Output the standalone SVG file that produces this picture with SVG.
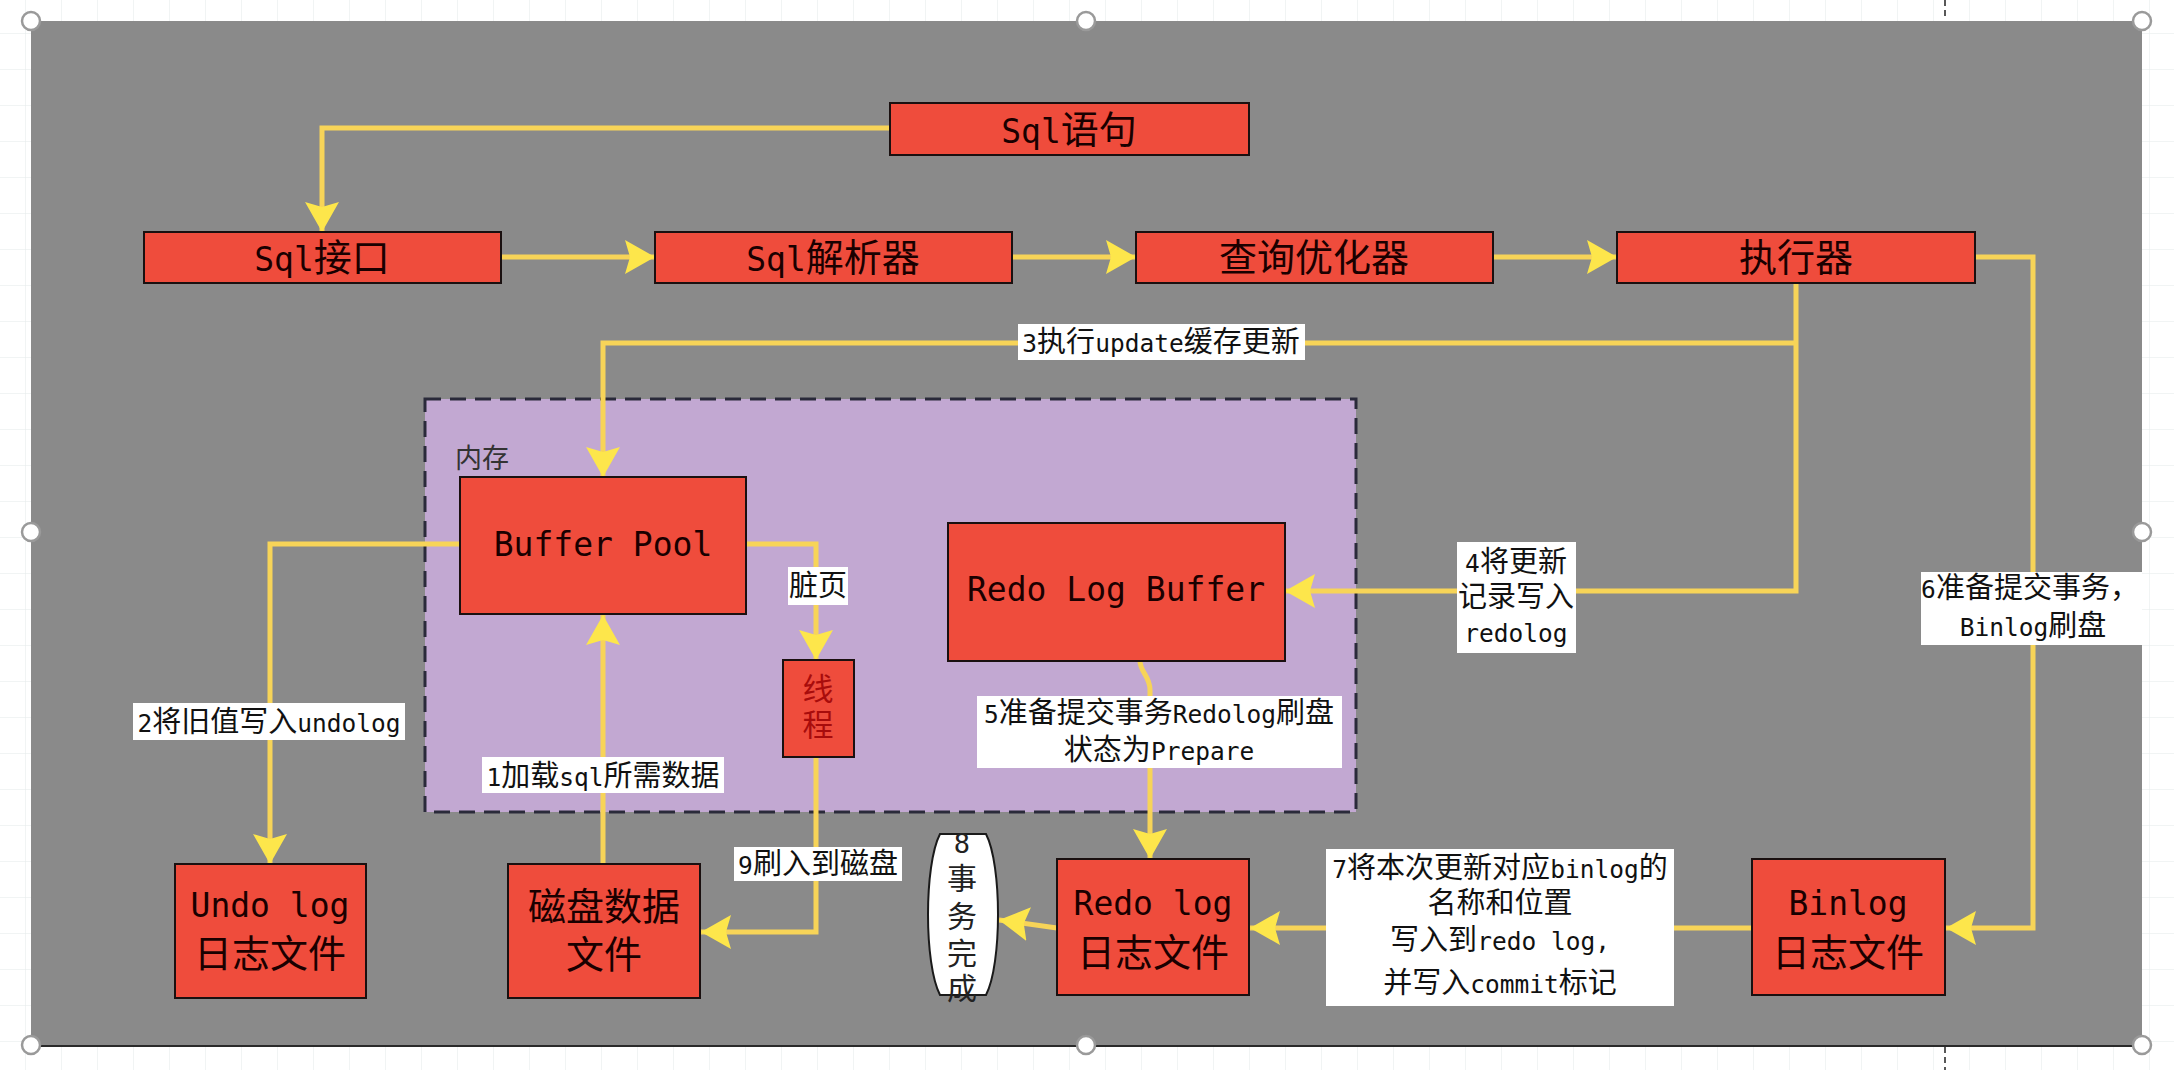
<svg xmlns="http://www.w3.org/2000/svg" width="2174" height="1070" viewBox="0 0 2174 1070">
<style>
.nb{fill:#ef4c3c;stroke:#1a1010;stroke-width:2}
.nt{font-family:"Liberation Sans","Noto Sans CJK SC",sans-serif;font-size:38px;fill:#1a0000;text-anchor:middle}
.nl{font-family:"DejaVu Sans Mono",monospace;font-size:33px}
.lb{fill:#ffffff}
.lt{font-family:"Liberation Sans","Noto Sans CJK SC",sans-serif;font-size:29px;fill:#111;text-anchor:middle}
.ll{font-family:"DejaVu Sans Mono",monospace;font-size:24.5px}
.cn{fill:none;stroke:#f7d458;stroke-width:5}
.hd{fill:#fff;stroke:#9a9a9a;stroke-width:2.5}
</style>
<defs>
<pattern id="grid" width="36" height="36" patternUnits="userSpaceOnUse" x="25" y="33">
<path d="M0,0 V36 M0,0 H36" stroke="#e4e9e9" stroke-width="1" fill="none"/>
</pattern>
<marker id="ah" markerUnits="userSpaceOnUse" markerWidth="32" markerHeight="34" refX="30" refY="17" orient="auto">
<path d="M0,0 L30,17 L0,34 L5,17 Z" fill="#fde64b"/>
</marker>
</defs>

<rect x="0" y="0" width="2174" height="1070" fill="#ffffff"/>
<rect x="0" y="0" width="2174" height="1070" fill="url(#grid)"/>
<line x1="1945" y1="0" x2="1945" y2="20" stroke="#222" stroke-width="1.5" stroke-dasharray="6 4"/>
<line x1="1945" y1="1047" x2="1945" y2="1070" stroke="#222" stroke-width="1.5" stroke-dasharray="6 4"/>

<g id="canvas">
<rect x="31" y="21" width="2111" height="1024" fill="#8a8a8a"/>
<line x1="31" y1="1046" x2="2142" y2="1046" stroke="#2a2a2a" stroke-width="2"/>
</g>

<g id="memory">
<rect x="425" y="399" width="931" height="413" fill="#c2a8d2" stroke="#2a2a3a" stroke-width="3" stroke-dasharray="16 9"/>
<text x="455" y="468" font-family="Liberation Sans, Noto Sans CJK SC, sans-serif" font-size="27" fill="#333">内存</text>
</g>

<g id="connectors">
<path class="cn" d="M890,128 H322 V232" marker-end="url(#ah)"/>
<path class="cn" d="M501,257 H655" marker-end="url(#ah)"/>
<path class="cn" d="M1012,257 H1136" marker-end="url(#ah)"/>
<path class="cn" d="M1493,257 H1617" marker-end="url(#ah)"/>
<path class="cn" d="M1796,283 V591 H1285" marker-end="url(#ah)"/>
<path class="cn" d="M1796,343 H603 V477" marker-end="url(#ah)"/>
<path class="cn" d="M1975,257 H2033 V928 H1946" marker-end="url(#ah)"/>
<path class="cn" d="M460,544 H270 V864" marker-end="url(#ah)"/>
<path class="cn" d="M746,544 H816 V660" marker-end="url(#ah)"/>
<path class="cn" d="M816,757 V932 H701" marker-end="url(#ah)"/>
<path class="cn" d="M603,864 V615" marker-end="url(#ah)"/>
<path class="cn" d="M1140,661 C1140,672 1150,676 1150,690 V859" marker-end="url(#ah)"/>
<path class="cn" d="M1752,928 H1250" marker-end="url(#ah)"/>
<path class="cn" d="M1057,928 L999,920" marker-end="url(#ah)"/>
</g>

<g id="sql-stmt">
<rect class="nb" x="890" y="103" width="359" height="52"/>
<text class="nt" x="1069" y="143"><tspan class="nl">Sql</tspan>语句</text>
</g>
<g id="sql-iface">
<rect class="nb" x="144" y="232" width="357" height="51"/>
<text class="nt" x="322" y="271"><tspan class="nl">Sql</tspan>接口</text>
</g>
<g id="sql-parser">
<rect class="nb" x="655" y="232" width="357" height="51"/>
<text class="nt" x="833" y="271"><tspan class="nl">Sql</tspan>解析器</text>
</g>
<g id="optimizer">
<rect class="nb" x="1136" y="232" width="357" height="51"/>
<text class="nt" x="1314" y="271">查询优化器</text>
</g>
<g id="executor">
<rect class="nb" x="1617" y="232" width="358" height="51"/>
<text class="nt" x="1796" y="271">执行器</text>
</g>
<g id="buffer-pool">
<rect class="nb" x="460" y="477" width="286" height="137"/>
<text class="nt" x="603" y="556"><tspan class="nl">Buffer Pool</tspan></text>
</g>
<g id="redo-log-buffer">
<rect class="nb" x="948" y="523" width="337" height="138"/>
<text class="nt" x="1116" y="601"><tspan class="nl">Redo Log Buffer</tspan></text>
</g>
<g id="thread">
<rect class="nb" x="783" y="660" width="71" height="97"/>
<text class="nt" x="818" y="700" style="font-size:31px;fill:#a80c0c">线</text>
<text class="nt" x="818" y="736" style="font-size:31px;fill:#a80c0c">程</text>
</g>
<g id="undo-log">
<rect class="nb" x="175" y="864" width="191" height="134"/>
<text class="nt" x="270" y="917"><tspan class="nl">Undo log</tspan></text>
<text class="nt" x="270" y="967">日志文件</text>
</g>
<g id="disk-data">
<rect class="nb" x="508" y="864" width="192" height="134"/>
<text class="nt" x="604" y="920">磁盘数据</text>
<text class="nt" x="604" y="968">文件</text>
</g>
<g id="redo-log-file">
<rect class="nb" x="1057" y="859" width="192" height="136"/>
<text class="nt" x="1153" y="915"><tspan class="nl">Redo log</tspan></text>
<text class="nt" x="1153" y="966">日志文件</text>
</g>
<g id="binlog-file">
<rect class="nb" x="1752" y="859" width="193" height="136"/>
<text class="nt" x="1848" y="915"><tspan class="nl">Binlog</tspan></text>
<text class="nt" x="1848" y="966">日志文件</text>
</g>
<g id="tx-done">
<path d="M940,834 L986,834 C1002,865 1002,964 986,995 L940,995 C924,964 924,865 940,834 Z" fill="#ffffff" stroke="#1a1a1a" stroke-width="2"/>
<text class="lt" x="962" y="853" style="font-size:30px;fill:#222"><tspan class="ll" style="font-size:27px">8</tspan></text>
<text class="lt" x="962" y="889" style="font-size:30px;fill:#222">事</text>
<text class="lt" x="962" y="927" style="font-size:30px;fill:#222">务</text>
<text class="lt" x="962" y="964" style="font-size:30px;fill:#222">完</text>
<text class="lt" x="962" y="999" style="font-size:30px;fill:#222">成</text>
</g>

<g id="labels">
<rect class="lb" x="1018" y="324" width="287" height="36"/>
<text class="lt" x="1161" y="352"><tspan class="ll">3</tspan>执行<tspan class="ll">update</tspan>缓存更新</text>

<rect class="lb" x="133" y="703" width="272" height="37"/>
<text class="lt" x="269" y="732"><tspan class="ll">2</tspan>将旧值写入<tspan class="ll">undolog</tspan></text>

<rect class="lb" x="788" y="567" width="60" height="38"/>
<text class="lt" x="818" y="596">脏页</text>

<rect class="lb" x="482" y="757" width="242" height="36"/>
<text class="lt" x="603" y="786"><tspan class="ll">1</tspan>加载<tspan class="ll">sql</tspan>所需数据</text>

<rect class="lb" x="734" y="847" width="168" height="34"/>
<text class="lt" x="818" y="874"><tspan class="ll">9</tspan>刷入到磁盘</text>

<rect class="lb" x="1457" y="542" width="119" height="111"/>
<text class="lt" x="1516" y="572"><tspan class="ll">4</tspan>将更新</text>
<text class="lt" x="1516" y="607">记录写入</text>
<text class="lt" x="1516" y="642"><tspan class="ll">redolog</tspan></text>

<rect class="lb" x="1921" y="572" width="221" height="73"/>
<text class="lt" x="2030" y="598"><tspan class="ll">6</tspan>准备提交事务，</text>
<text class="lt" x="2033" y="636"><tspan class="ll">Binlog</tspan>刷盘</text>

<rect class="lb" x="977" y="696" width="365" height="72"/>
<text class="lt" x="1159" y="723"><tspan class="ll">5</tspan>准备提交事务<tspan class="ll">Redolog</tspan>刷盘</text>
<text class="lt" x="1159" y="760">状态为<tspan class="ll">Prepare</tspan></text>

<rect class="lb" x="1326" y="849" width="348" height="157"/>
<text class="lt" x="1500" y="878"><tspan class="ll">7</tspan>将本次更新对应<tspan class="ll">binlog</tspan>的</text>
<text class="lt" x="1500" y="913">名称和位置</text>
<text class="lt" x="1500" y="950">写入到<tspan class="ll">redo log,</tspan></text>
<text class="lt" x="1500" y="993">并写入<tspan class="ll">commit</tspan>标记</text>
</g>

<g id="handles">
<circle class="hd" cx="31" cy="21" r="9"/>
<circle class="hd" cx="1086" cy="21" r="9"/>
<circle class="hd" cx="2142" cy="21" r="9"/>
<circle class="hd" cx="31" cy="532" r="9"/>
<circle class="hd" cx="2142" cy="532" r="9"/>
<circle class="hd" cx="31" cy="1045" r="9"/>
<circle class="hd" cx="1086" cy="1045" r="9"/>
<circle class="hd" cx="2142" cy="1045" r="9"/>
</g>
</svg>
